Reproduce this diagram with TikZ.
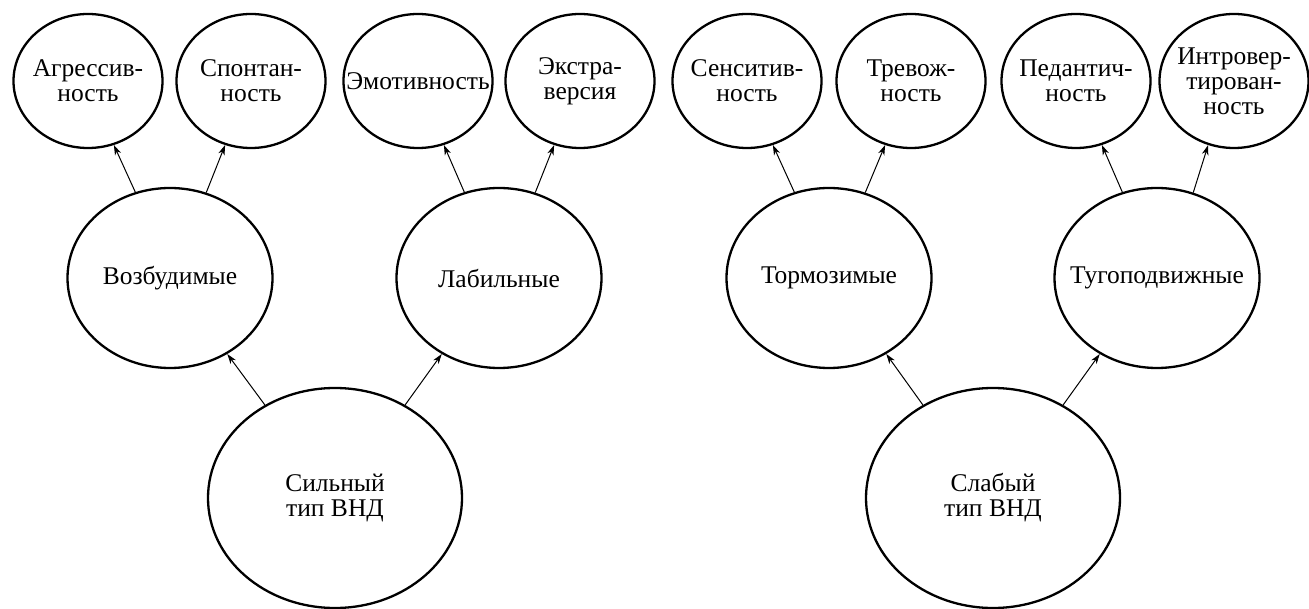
\documentclass[tikz,border=0pt]{standalone}
\usepackage{fontspec}
\setmainfont{Liberation Serif}
\usetikzlibrary{shapes.geometric,arrows.meta}
\begin{document}
\begin{tikzpicture}[x=1pt,y=-1pt,
  el/.style={ellipse, draw, line width=2.3pt, inner sep=0pt},
  topel/.style={el, minimum width=149pt, minimum height=134pt},
  midel/.style={el, minimum width=205pt, minimum height=180pt},
  botel/.style={el, minimum width=254pt, minimum height=220pt},
  txt/.style={align=center, inner sep=0pt, font=\fontsize{25.5}{25}\selectfont},
  arr/.style={-{Stealth[length=10pt,width=6.5pt,inset=3pt]}, line width=1pt}]
\useasboundingbox (0,0) rectangle (1309,609);
% top row
\node[topel] (agr) at (88,81) {};
\node[txt] (agrt) at (agr) {Агрессив-\\ность};
\node[topel] (spo) at (251,81) {};
\node[txt] (spot) at (spo) {Спонтан-\\ность};
\node[topel] (emo) at (418,81) {};
\node[txt] (emot) at (emo) {Эмотивность};
\node[topel] (ext) at (580,81) {};
\node[txt] (extt) at (ext) {Экстра-\\версия};
\node[topel] (sen) at (747,81) {};
\node[txt] (sent) at (sen) {Сенситив-\\ность};
\node[topel] (tre) at (911,81) {};
\node[txt] (tret) at (tre) {Тревож-\\ность};
\node[topel] (ped) at (1076,81) {};
\node[txt] (pedt) at (ped) {Педантич-\\ность};
\node[topel] (int) at (1234,81) {};
\node[txt] (intt) at (int) {Интровер-\\тирован-\\ность};
% middle row
\node[midel] (voz) at (170,278) {};
\node[txt] (vozt) at (voz) {Возбудимые};
\node[midel] (lab) at (499,278) {};
\node[txt] (labt) at (lab) {Лабильные};
\node[midel] (tor) at (829,278) {};
\node[txt] (tort) at (tor) {Тормозимые};
\node[midel] (tug) at (1157,278) {};
\node[txt] (tugt) at (tug) {Тугоподвижные};
% bottom row
\node[botel] (sil) at (335,498) {};
\node[txt] (silt) at (sil) {Сильный\\тип ВНД};
\node[botel] (sla) at (993,498) {};
\node[txt] (slat) at (sla) {Слабый\\тип ВНД};
% arrows middle -> top
\draw[arr] (voz.112.7) -- (agr.-68);
\draw[arr] (voz.67.3) -- (spo.-112);
\draw[arr] (lab.112.7) -- (emo.-68);
\draw[arr] (lab.67.3) -- (ext.-112);
\draw[arr] (tor.112.7) -- (sen.-68);
\draw[arr] (tor.67.3) -- (tre.-112);
\draw[arr] (tug.112.7) -- (ped.-68);
\draw[arr] (tug.67.3) -- (int.-112);
% arrows bottom -> middle
\draw[arr] (sil.127) -- (voz.-53);
\draw[arr] (sil.53) -- (lab.-127);
\draw[arr] (sla.127) -- (tor.-53);
\draw[arr] (sla.53) -- (tug.-127);
\end{tikzpicture}
\end{document}
